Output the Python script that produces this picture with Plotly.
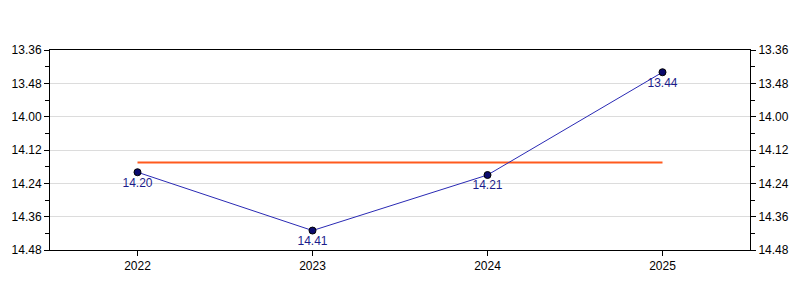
import plotly.graph_objects as go

years = [2022, 2023, 2024, 2025]
times = ["14.20", "14.41", "14.21", "13.44"]  # min.sec
tick_labels = ["13.36", "13.48", "14.00", "14.12", "14.24", "14.36", "14.48"]


def to_sec(s):
    m, sec = s.split(".")
    return int(m) * 60 + int(sec)


secs = [to_sec(t) for t in times]
tick_vals = [to_sec(t) for t in tick_labels]
avg = sum(secs) / len(secs)
yr = [tick_vals[-1], tick_vals[0]]

fig = go.Figure()
fig.add_trace(go.Scatter(
    x=[years[0], years[-1]], y=[avg, avg], mode="lines",
    line=dict(color="#FF5A1E", width=2), hoverinfo="skip", showlegend=False))
fig.add_trace(go.Scatter(
    x=years, y=secs, mode="lines+markers+text", text=times,
    textposition="bottom center",
    textfont=dict(color="#1C1C8C", size=12, family="Liberation Sans, Arial"),
    line=dict(color="#2A2AB4", width=1),
    marker=dict(color="#0A0A6E", size=7, line=dict(color="black", width=1)),
    showlegend=False))
fig.add_trace(go.Scatter(x=years, y=secs, yaxis="y2", mode="markers",
                         marker=dict(opacity=0), hoverinfo="skip", showlegend=False))

axis_common = dict(
    range=yr, tickvals=tick_vals, ticktext=tick_labels,
    ticks="outside", ticklen=5, tickcolor="black",
    showline=True, linecolor="black", linewidth=1,
    tickfont=dict(size=12, color="black", family="Liberation Sans, Arial"),
    minor=dict(dtick=6, tick0=816, ticks="outside", ticklen=4, tickcolor="black", showgrid=False),
    zeroline=False,
)

fig.update_layout(
    width=800, height=300,
    margin=dict(l=50, r=50, t=50, b=50),
    plot_bgcolor="white", paper_bgcolor="white",
    xaxis=dict(range=[2021.5, 2025.5], tickvals=years, ticktext=[str(y) for y in years],
               ticks="outside", ticklen=5, tickcolor="black",
               showline=True, linecolor="black", linewidth=1, mirror=True,
               showgrid=False, zeroline=False,
               tickfont=dict(size=12, color="black", family="Liberation Sans, Arial")),
    yaxis=dict(**axis_common, side="left", showgrid=True, gridcolor="#DCDCDC", gridwidth=1),
    yaxis2=dict(**axis_common, side="right", overlaying="y", showgrid=False, anchor="x"),
)

fig.write_html("out.html")
